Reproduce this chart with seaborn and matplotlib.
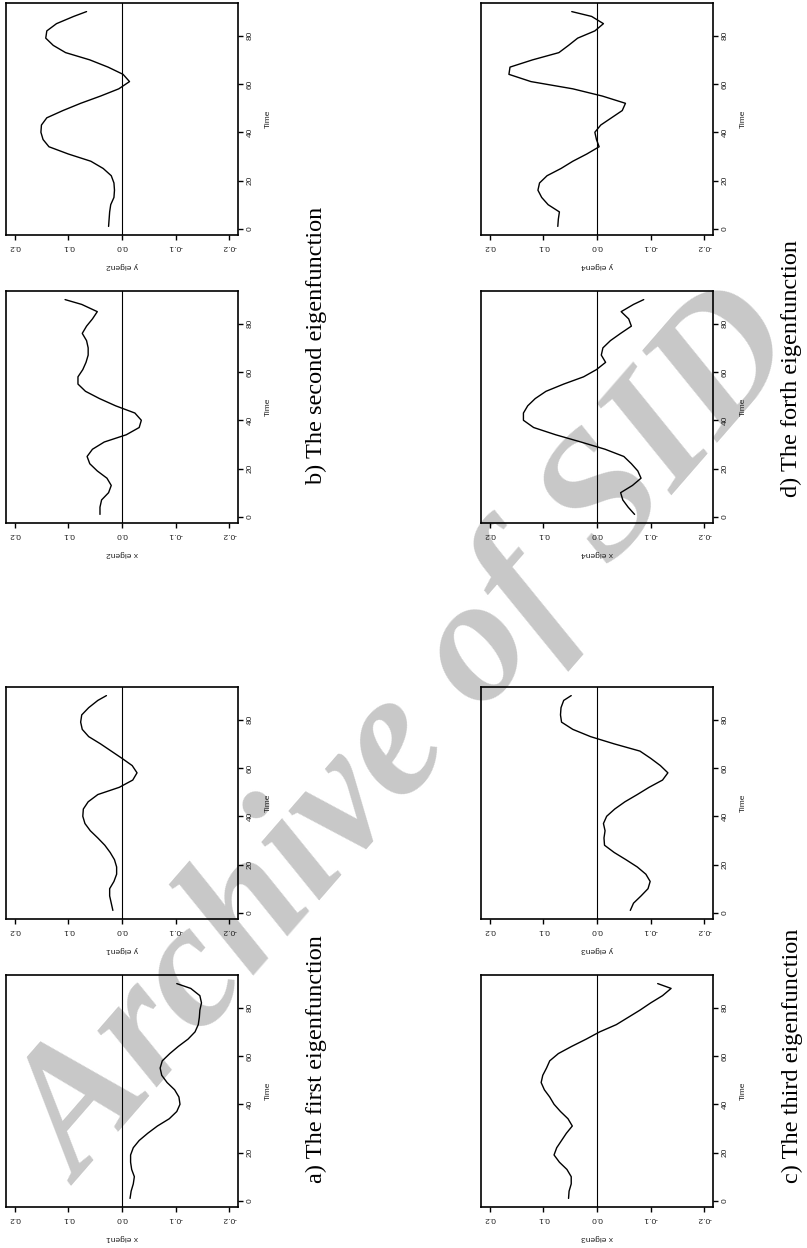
import matplotlib
matplotlib.use("Agg")
import numpy as np
import pandas as pd
import seaborn as sns
from matplotlib import pyplot as plt

# time grid shared by all eigenfunctions
time = [1, 4, 7, 10, 13, 16, 19, 22, 25, 28, 31, 34, 37, 40, 43, 46,
        49, 52, 55, 58, 61, 64, 67, 70, 73, 76, 79, 82, 85, 88, 90]

x_eigen1 = [-0.015, -0.017, -0.021, -0.023, -0.018, -0.016, -0.016, -0.021,
            -0.032, -0.048, -0.066, -0.088, -0.102, -0.108, -0.106, -0.098,
            -0.084, -0.074, -0.071, -0.075, -0.089, -0.105, -0.123, -0.136,
            -0.142, -0.144, -0.145, -0.148, -0.145, -0.128, -0.102]
y_eigen1 = [0.017, 0.020, 0.023, 0.023, 0.015, 0.010, 0.010, 0.014,
            0.022, 0.032, 0.045, 0.059, 0.069, 0.073, 0.072, 0.063,
            0.045, 0.005, -0.020, -0.028, -0.019, 0.000, 0.020, 0.040,
            0.062, 0.074, 0.077, 0.075, 0.062, 0.045, 0.029]
x_eigen2 = [0.041, 0.041, 0.038, 0.025, 0.020, 0.028, 0.046, 0.060,
            0.065, 0.055, 0.033, -0.008, -0.032, -0.036, -0.024, 0.012,
            0.042, 0.068, 0.082, 0.082, 0.073, 0.067, 0.063, 0.063,
            0.066, 0.074, 0.066, 0.055, 0.046, 0.075, 0.106]
y_eigen2 = [0.025, 0.024, 0.023, 0.021, 0.015, 0.014, 0.015, 0.020,
            0.035, 0.058, 0.100, 0.136, 0.147, 0.151, 0.150, 0.140,
            0.110, 0.077, 0.040, 0.006, -0.014, -0.002, 0.026, 0.060,
            0.105, 0.128, 0.142, 0.140, 0.122, 0.090, 0.066]
x_eigen3 = [0.053, 0.052, 0.048, 0.048, 0.056, 0.070, 0.080, 0.075,
            0.066, 0.057, 0.046, 0.054, 0.068, 0.080, 0.088, 0.098,
            0.104, 0.101, 0.094, 0.088, 0.072, 0.047, 0.020, -0.005,
            -0.036, -0.058, -0.080, -0.100, -0.122, -0.138, -0.113]
y_eigen3 = [-0.062, -0.068, -0.082, -0.095, -0.099, -0.091, -0.075, -0.054,
            -0.032, -0.014, -0.013, -0.015, -0.012, -0.018, -0.033, -0.052,
            -0.075, -0.097, -0.122, -0.132, -0.118, -0.100, -0.080, -0.032,
            0.012, 0.045, 0.066, 0.068, 0.067, 0.062, 0.048]
x_eigen4 = [-0.070, -0.058, -0.048, -0.044, -0.066, -0.082, -0.076, -0.064,
            -0.050, -0.015, 0.030, 0.077, 0.118, 0.137, 0.137, 0.129,
            0.115, 0.095, 0.062, 0.025, 0.001, -0.016, -0.008, -0.011,
            -0.025, -0.044, -0.064, -0.059, -0.045, -0.068, -0.087]
y_eigen4 = [0.073, 0.072, 0.070, 0.091, 0.103, 0.110, 0.107, 0.093,
            0.067, 0.045, 0.019, -0.004, 0.001, 0.004, -0.007, -0.027,
            -0.047, -0.053, -0.010, 0.045, 0.123, 0.164, 0.162, 0.120,
            0.071, 0.053, 0.036, 0.004, -0.012, 0.010, 0.047]

value_ticks = [0.2, 0.1, 0.0, -0.1, -0.2]
value_labels = ["0.2", "0.1", "0.0", "-0.1", "-0.2"]
time_ticks = [0, 20, 40, 60, 80]

captions = ["a) The first eigenfunction", "b) The second eigenfunction",
            "c) The third eigenfunction", "d) The forth eigenfunction"]

W, H = 807, 1248


def main():
    sns.set_theme(style="ticks")
    plt.rcParams["font.family"] = ["Liberation Sans", "DejaVu Sans"]

    df = pd.DataFrame({
        "time": time,
        "x eigen1": x_eigen1, "y eigen1": y_eigen1,
        "x eigen2": x_eigen2, "y eigen2": y_eigen2,
        "x eigen3": x_eigen3, "y eigen3": y_eigen3,
        "x eigen4": x_eigen4, "y eigen4": y_eigen4,
    })

    fig = plt.figure(figsize=(W / 100, H / 100), dpi=100)

    # grey watermark, behind the panels
    fig.text(410 / W, 1 - 740 / H, "Archive of SID", rotation=49,
             rotation_mode="anchor", ha="center", va="center",
             fontsize=128, fontfamily="Liberation Serif", fontweight="bold",
             fontstyle="italic", color="#c8c8c8", zorder=-1)

    # (column, left px, top px of box)
    panels = [
        ("y eigen2", 6, 3), ("x eigen2", 6, 291),
        ("y eigen1", 6, 687), ("x eigen1", 6, 975),
        ("y eigen4", 481, 3), ("x eigen4", 481, 291),
        ("y eigen3", 481, 687), ("x eigen3", 481, 975),
    ]
    size = 232
    for col, left, top in panels:
        ax = fig.add_axes([left / W, (H - top - size) / H, size / W, size / H])
        ax.set_facecolor("none")
        ax.axvline(0, color="black", lw=0.8, zorder=1)
        sns.lineplot(data=df, x=col, y="time", orient="y", color="black",
                     lw=1.0, ax=ax, estimator=None, zorder=2,
                     solid_joinstyle="round")
        ax.set_xlim(0.216, -0.216)
        ax.set_ylim(-2.56, 93.56)
        ax.set_xticks(value_ticks)
        ax.set_xticklabels(value_labels, rotation=180)
        ax.set_yticks(time_ticks)
        ax.yaxis.tick_right()
        ax.yaxis.set_label_position("right")
        plt.setp(ax.get_yticklabels(), rotation=90, va="center", ha="left")
        ax.tick_params(axis="both", labelsize=6, length=3.6, width=1.0,
                       pad=2.5, colors="black", labelcolor="#222222")
        ax.set_xlabel(col, rotation=180, fontsize=6, labelpad=8, color="#222222")
        ax.set_ylabel("Time", rotation=90, fontsize=6, labelpad=8, color="#222222")
        for sp in ax.spines.values():
            sp.set_visible(True)
            sp.set_linewidth(1.2)
            sp.set_color("black")

    # captions (x centre px, bottom px)
    cap_pos = [(316, 1183), (316, 484), (792, 1183), (791, 497)]
    for text, (cx, cb) in zip(captions, cap_pos):
        fig.text(cx / W, 1 - cb / H, text, rotation=90, ha="center", va="bottom",
                 fontsize=17.5, fontfamily="Liberation Serif", color="black")

    fig.savefig("out.png", dpi=100, facecolor="white")


if __name__ == "__main__":
    main()
